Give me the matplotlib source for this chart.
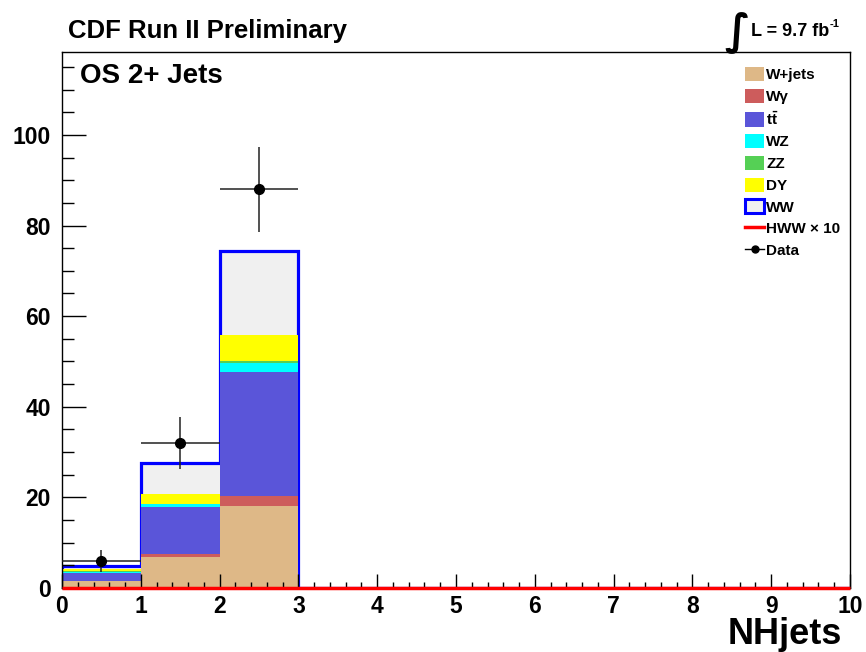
import numpy as np
import matplotlib
matplotlib.use("Agg")
import matplotlib.pyplot as plt
from matplotlib.patches import Patch
from matplotlib.lines import Line2D

plt.rcParams['font.family'] = ['Liberation Sans', 'DejaVu Sans']
plt.rcParams['font.weight'] = 'bold'
plt.rcParams['mathtext.fontset'] = 'custom'
plt.rcParams['mathtext.bf'] = 'Liberation Sans:bold'
plt.rcParams['mathtext.rm'] = 'Liberation Sans:bold'

# NHjets bins 0..10
edges = np.arange(0, 11)
wjets = [1.5, 6.9, 18.1, 0, 0, 0, 0, 0, 0, 0]
wgamma = [0.1, 0.7, 2.2, 0, 0, 0, 0, 0, 0, 0]
ttbar = [1.8, 10.2, 27.3, 0, 0, 0, 0, 0, 0, 0]
wz = [0.15, 0.7, 2.0, 0, 0, 0, 0, 0, 0, 0]
zz = [0.15, 0.1, 0.4, 0, 0, 0, 0, 0, 0, 0]
dy = [0.4, 2.1, 5.9, 0, 0, 0, 0, 0, 0, 0]
ww = [0.75, 6.8, 18.4, 0, 0, 0, 0, 0, 0, 0]
hww_x10 = [0, 0, 0, 0, 0, 0, 0, 0, 0, 0]
data = [6, 32, 88, 0, 0, 0, 0, 0, 0, 0]

labels = ['W+jets', 'W\u03b3', r'$\mathbf{t\bar{t}}$', 'WZ', 'ZZ', 'DY', 'WW']
colors = ['#deb887', '#cd5c5c', '#5a55d9', '#00ffff', '#55d055', '#ffff00', '#f0f0f0']
stack = [wjets, wgamma, ttbar, wz, zz, dy, ww]

fig = plt.figure(figsize=(8.66, 6.52), dpi=100)
ax = fig.add_axes([62/866, 1-588/652, (850-62)/866, (588-52)/652])

cum = np.cumsum(np.array(stack), axis=0)
# draw like a THStack: total first, then smaller sums on top
for i in range(len(stack)-1, -1, -1):
    ax.stairs(cum[i], edges, fill=True, color=colors[i], lw=0)
    if i == len(stack)-1:
        ax.stairs(cum[i], edges, baseline=0, color='#0000ff', lw=2.3)

ax.stairs(hww_x10, edges, baseline=None, color='#ff0000', lw=2.5, clip_on=False, zorder=4)

data = np.array(data, dtype=float)
centers = 0.5*(edges[:-1]+edges[1:])
m = data > 0
ax.errorbar(centers[m], data[m], yerr=np.sqrt(data[m]), xerr=0.5, fmt='o',
            color='black', ecolor='#222222', elinewidth=1.1, ms=7, capsize=0, zorder=5)

ax.set_xlim(0, 10)
ax.set_ylim(0, 118.3)
ax.set_xticks(range(0, 11))
ax.set_xticks(np.arange(0, 10.01, 0.2), minor=True)
ax.set_yticks(range(0, 101, 20))
ax.set_yticks(range(0, 116, 5), minor=True)
ax.tick_params(axis='x', which='major', direction='in', length=10, width=1, labelsize=16.5, pad=5, top=False)
ax.tick_params(axis='x', which='minor', direction='in', length=4.5, width=1, top=False)
ax.tick_params(axis='y', which='major', direction='in', length=17, width=1, labelsize=16.5, pad=8, right=False)
ax.tick_params(axis='y', which='minor', direction='in', length=8.5, width=1, right=False)
for s in ax.spines.values():
    s.set_linewidth(1)

fig.text(842/866, 1-635/652, 'NHjets', ha='right', va='center', fontsize=26, fontweight='bold')
fig.text(68/866, 1-31/652, 'CDF Run II Preliminary', ha='left', va='center', fontsize=18.5, fontweight='bold')
fig.text(80/866, 1-76/652, 'OS 2+ Jets', ha='left', va='center', fontsize=20, fontweight='bold')
fig.text(737/866, 1-33/652, '\u222b', ha='center', va='center', fontsize=30, family='DejaVu Sans')
fig.text(751/866, 1-32/652, 'L = 9.7 fb', ha='left', va='center', fontsize=13, fontweight='bold')
fig.text(830/866, 1-24/652, '-1', ha='left', va='center', fontsize=8, fontweight='bold')

handles = [Patch(facecolor=c, edgecolor='none') for c in colors[:-1]]
handles.append(Patch(facecolor='#f0f0f0', edgecolor='#0000ff', lw=2.2))
handles.append(Line2D([], [], color='#ff0000', lw=2.5))
handles.append(Line2D([], [], color='black', marker='o', ms=5, lw=1))
leg_labels = labels + ['HWW \u00d7 10', 'Data']
leg = ax.legend(handles, leg_labels, loc='upper left', bbox_to_anchor=(745/866, 1-67/652),
                bbox_transform=fig.transFigure, frameon=False, fontsize=11,
                handlelength=1.25, handleheight=1.05, handletextpad=0.15,
                labelspacing=0.42, borderpad=0, borderaxespad=0)

fig.savefig('out.png', dpi=100)
